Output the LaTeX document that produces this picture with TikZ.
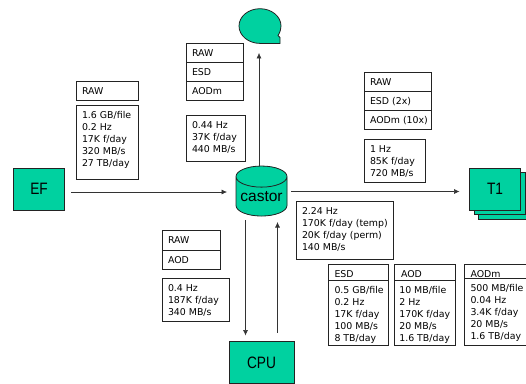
\documentclass[tikz,border=0pt]{standalone}
\usepackage{fontspec}
\usepackage{graphicx}
\setmainfont{DejaVu Sans}
\newfontfamily\bigfont{Liberation Sans}
\usetikzlibrary{arrows.meta,shapes.geometric}
\definecolor{teal1}{RGB}{0,209,160}
\definecolor{teal2}{RGB}{50,222,182}
\definecolor{edge}{RGB}{35,35,35}
\newcommand\cellbox[7]{%name,x,y,w,h,offset,text
  \node[cell] (#1) at (#2,#3) {\parbox[c][#5pt][t]{#4pt}{\vspace*{#6pt}\hspace*{6pt}\begin{tabular}[t]{@{}l@{}}#7\end{tabular}}};}
\newcommand\bigtext[1]{\scalebox{.83}[1]{\fontsize{16.5}{16.5}\selectfont #1}}
\tikzset{
  cell/.style={draw=edge,line width=0.8pt,fill=white,inner sep=0pt,outer sep=0pt,anchor=north west,font=\fontsize{9.4}{12}\selectfont},
  solid box/.style={draw=edge,line width=0.8pt,fill=teal1,inner sep=0pt,outer sep=0pt,font=\bigfont\fontsize{15.5}{15.5}\selectfont},
  link/.style={draw=black!80,line width=0.6pt,-{Latex[length=5.5pt,width=5pt]}}
}
\begin{document}
\begin{tikzpicture}[x=1pt,y=-1pt]
\useasboundingbox (0,0) rectangle (526,383);
% solid nodes
\node[solid box,minimum width=51pt,minimum height=42pt] (ef) at (39,189) {\bigtext{EF}};
\node[solid box,minimum width=51pt,minimum height=42pt] (t1c) at (504,198) {};
\node[solid box,minimum width=51pt,minimum height=42pt] (t1b) at (499.5,193.5) {};
\node[solid box,minimum width=51pt,minimum height=42pt] (t1) at (495,189) {\bigtext{T1}};
\node[solid box,minimum width=65pt,minimum height=42pt] (cpu) at (261.5,362.5) {\bigtext{CPU}};
\node[solid box,cylinder,shape border rotate=90,aspect=0.5,cylinder uses custom fill,cylinder body fill=teal1,cylinder end fill=teal2,minimum width=51pt,minimum height=50pt] (castor) at (261.5,196.5) {castor};
% tape symbol
\draw[draw=edge,line width=0.8pt,fill=teal1] (260,43.4) -- (280,43.4) -- (280,37.5) -- (278,35.5)
  .. controls (280.2,32) and (281,29) .. (281,26)
  .. controls (281,16.4) and (271.6,8.7) .. (260,8.7)
  .. controls (248.4,8.7) and (239,16.4) .. (239,26)
  .. controls (239,35.6) and (248.4,43.4) .. (260,43.4) -- cycle;
\coordinate (tape) at (259,43.4);
% tables
\cellbox{efa}{76}{81.5}{62}{18.5}{4.8}{RAW}
\cellbox{efb}{76}{105}{62}{74}{5}{1.6 GB/file\\0.2 Hz\\17K f/day\\320 MB/s\\27 TB/day}
\cellbox{ma}{186}{43}{57.5}{19.5}{4.8}{RAW}
\cellbox{mb}{186}{62.5}{57.5}{19}{4.8}{ESD}
\cellbox{mc}{186}{81.5}{57.5}{19}{4.4}{AODm}
\cellbox{md}{186}{115}{59}{46.5}{5}{0.44 Hz\\37K f/day\\440 MB/s}
\cellbox{ra}{364}{72}{67.5}{19}{4.8}{RAW}
\cellbox{rb}{364}{91}{67.5}{19}{4.8}{ESD (2x)}
\cellbox{rc}{364}{110}{67.5}{19}{4.8}{AODm (10x)}
\cellbox{rd}{364}{139}{61}{43.5}{5}{1 Hz\\85K f/day\\720 MB/s}
\cellbox{ca}{162}{230.5}{58}{19.5}{4.8}{RAW}
\cellbox{cb}{162}{250}{58}{19.5}{5.2}{AOD}
\cellbox{cc}{162}{278.5}{67.5}{43}{5}{0.4 Hz\\187K f/day\\340 MB/s}
\cellbox{ta}{296}{201.5}{97}{58}{5}{2.24 Hz\\170K f/day (temp)\\20K f/day (perm)\\140 MB/s}
\cellbox{ea}{328.5}{264}{59.5}{16}{5}{ESD}
\cellbox{eb}{328.5}{280}{59.5}{65}{5}{0.5 GB/file\\0.2 Hz\\17K f/day\\100 MB/s\\8 TB/day}
\cellbox{aa}{394}{264}{61}{16}{5}{\hspace*{1pt}AOD}
\cellbox{ab}{394}{280}{61}{65}{5}{\hspace*{-0.7pt}10 MB/file\\\hspace*{-0.7pt}2 Hz\\\hspace*{-0.7pt}170K f/day\\\hspace*{-0.7pt}20 MB/s\\\hspace*{-0.7pt}1.6 TB/day}
\cellbox{da}{464.5}{264}{66}{14.5}{5}{AODm}
\cellbox{db}{464.5}{278.5}{66}{66.5}{4.4}{500 MB/file\\0.04 Hz\\3.4K f/day\\20 MB/s\\1.6 TB/day}
% connectors
\coordinate (efout) at ([yshift=-3pt]ef.east);
\coordinate (castorout) at ([yshift=5pt]castor.east);
\coordinate (down) at (245.5,0);
\coordinate (up) at (277.5,0);
\draw[link,shorten <=6.5pt,shorten >=9pt] (efout) -- (castor.west |- efout);
\draw[link,shorten <=4pt,shorten >=10pt] (castorout) -- (t1.west |- castorout);
\draw[link,shorten >=9.5pt] (castor.north -| tape) -- (tape);
\draw[link,shorten <=4pt,shorten >=6pt] (castor.south -| down) -- (down |- cpu.north);
\draw[link,shorten <=9pt,shorten >=6pt] (up |- cpu.north) -- (castor.south -| up);
\end{tikzpicture}
\end{document}
